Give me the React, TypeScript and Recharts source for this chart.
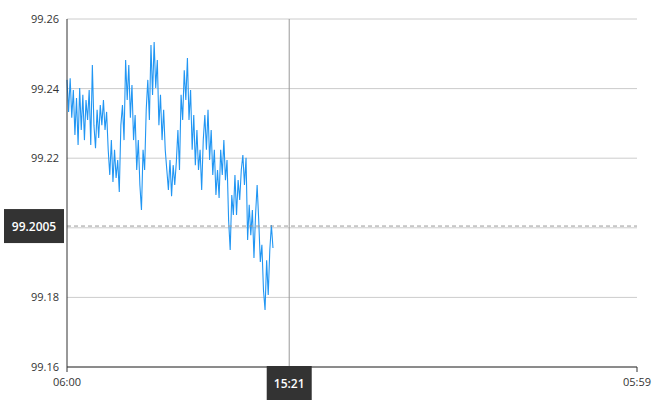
import React from "react";
import { LineChart, Line, XAxis, YAxis, CartesianGrid, ReferenceLine } from "recharts";

// minutes after 06:00, sampled every 4 minutes
const stepMinutes = 4;
const prices = [
  99.2425, 99.2333, 99.243, 99.2316, 99.2396, 99.2267, 99.2373, 99.2238, 99.2402, 99.2281,
  99.2382, 99.2252, 99.2367, 99.231, 99.2396, 99.2238, 99.2468, 99.2295, 99.2229, 99.2339,
  99.2258, 99.2353, 99.2295, 99.2367, 99.2281, 99.2333, 99.2224, 99.2152, 99.2252, 99.2132,
  99.2224, 99.2143, 99.2195, 99.2103, 99.2295, 99.2353, 99.2252, 99.2482, 99.2367, 99.2468,
  99.2316, 99.241, 99.2252, 99.2324, 99.2166, 99.2252, 99.2123, 99.2051, 99.2224, 99.2166,
  99.2339, 99.2425, 99.231, 99.2525, 99.2382, 99.2534, 99.2402, 99.2482, 99.2295, 99.2382,
  99.2252, 99.2339, 99.2224, 99.2166, 99.2109, 99.2195, 99.2091, 99.218, 99.2123, 99.2189,
  99.2281, 99.2166, 99.2382, 99.231, 99.2453, 99.2367, 99.2488, 99.231, 99.2396, 99.2224,
  99.2324, 99.218, 99.2281, 99.2166, 99.2224, 99.2109, 99.2252, 99.2324, 99.2224, 99.2339,
  99.2195, 99.2281, 99.2152, 99.2224, 99.2094, 99.2166, 99.2086, 99.2224, 99.2152, 99.2252,
  99.2137, 99.2195, 99.2022, 99.1936, 99.2094, 99.2037, 99.2152, 99.2037, 99.2137, 99.208,
  99.2166, 99.2209, 99.2123, 99.2201, 99.1965, 99.2066, 99.1979, 99.2051, 99.1913, 99.2037,
  99.2123, 99.2022, 99.1902, 99.1951, 99.1821, 99.1764, 99.1907, 99.1807, 99.1936, 99.2008,
  99.1942,
];

const yTicks = [99.16, 99.18, 99.2, 99.22, 99.24, 99.26];
const xTicks = [0, 1439];
const xTickLabels = ["06:00", "05:59"];
const crossTime = 561; // 15:21
const crossTimeLabel = "15:21";
const crossPrice = 99.2005;
const crossPriceLabel = "99.2005";

const data = prices.map((p, i) => ({ t: i * stepMinutes, price: p }));

const FONT = "'Open Sans', 'Noto Sans', sans-serif";

const XLabel = (props: any) => {
  const vb = props.viewBox || {};
  const cx = vb.x;
  const bottom = vb.y + vb.height;
  return (
    <g>
      <rect x={cx - 22.5} y={bottom - 1} width={45} height={36} fill="#333333" />
      <text x={cx} y={bottom + 21} textAnchor="middle" fill="#ffffff" fontSize={12} fontFamily={FONT} fontWeight={600}>
        {crossTimeLabel}
      </text>
    </g>
  );
};

const YLabel = (props: any) => {
  const vb = props.viewBox || {};
  const left = vb.x;
  const cy = vb.y;
  return (
    <g>
      <rect x={left - 63} y={cy - 17} width={60} height={34} fill="#333333" />
      <text x={left - 33} y={cy + 4.5} textAnchor="middle" fill="#ffffff" fontSize={12} fontFamily={FONT} fontWeight={600}>
        {crossPriceLabel}
      </text>
    </g>
  );
};

export default function App() {
  return (
    <div style={{ position: "absolute", left: 0, top: 0, width: 670, height: 400, background: "#fff" }}>
      <LineChart width={670} height={400} data={data} margin={{ top: 19, right: 33, bottom: 0, left: 0 }}>
        <CartesianGrid vertical={false} stroke="#cccccc" />
        <XAxis
          dataKey="t"
          type="number"
          domain={[0, 1439]}
          ticks={xTicks}
          tickFormatter={(v: number) => xTickLabels[xTicks.indexOf(v)] ?? ""}
          height={33}
          axisLine={{ stroke: "#333333" }}
          tickLine={{ stroke: "#333333" }}
          tickSize={5}
          tick={{ fill: "#333333", fontSize: 11, fontFamily: FONT, dy: 4 }}
        />
        <YAxis
          type="number"
          domain={[99.16, 99.26]}
          ticks={yTicks}
          tickFormatter={(v: number) => (Math.abs(v - crossPrice) < 0.005 ? "" : v.toFixed(2))}
          width={67}
          axisLine={{ stroke: "#333333" }}
          tickLine={false}
          tick={{ fill: "#333333", fontSize: 11, fontFamily: FONT }}
        />
        <Line
          type="linear"
          dataKey="price"
          stroke="#2196f3"
          strokeWidth={1.1}
          dot={false}
          isAnimationActive={false}
        />
        <ReferenceLine x={crossTime} stroke="#999999" strokeWidth={1} label={<XLabel />} />
        <ReferenceLine y={crossPrice} stroke="#999999" strokeWidth={1} strokeDasharray="4 3" label={<YLabel />} />
      </LineChart>
    </div>
  );
}
